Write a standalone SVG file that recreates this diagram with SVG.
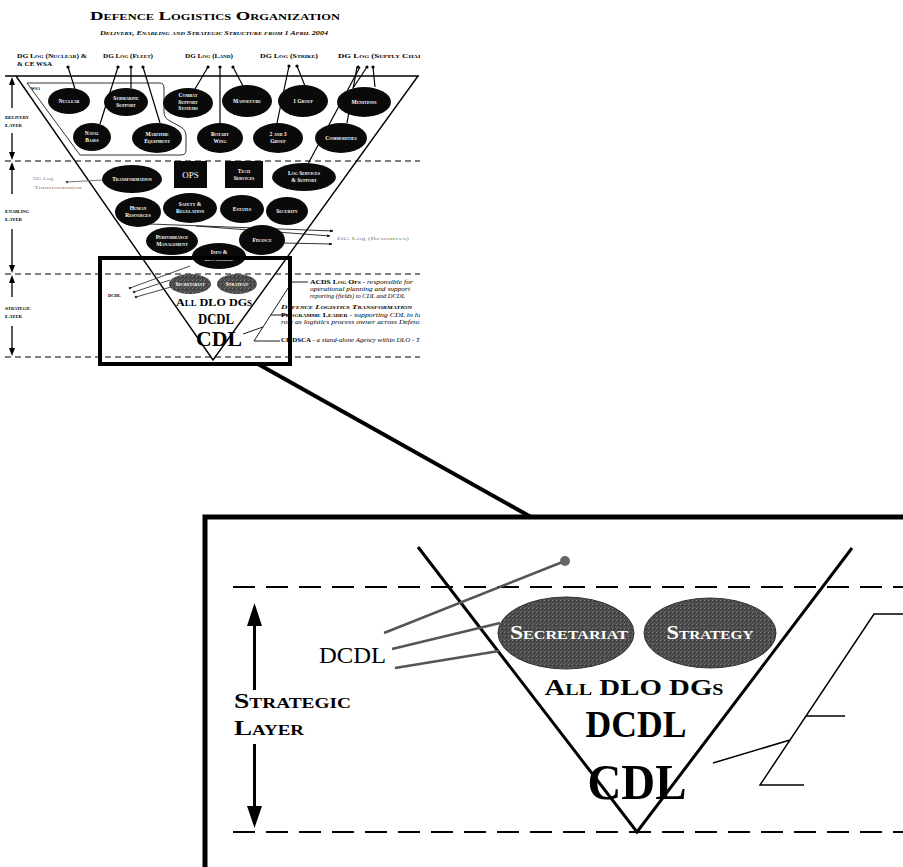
<svg xmlns="http://www.w3.org/2000/svg" width="903" height="867" viewBox="0 0 903 867">
<style>
.ser{font-family:"Liberation Serif","Times New Roman",serif}
.sc{font-family:"Liberation Serif","Times New Roman",serif;font-weight:bold;font-variant:small-caps}
.et{font-family:"Liberation Serif","Times New Roman",serif;font-weight:bold;font-variant:small-caps;fill:#fff;font-size:5.5px;text-anchor:middle}
.blk{fill:#0a0a0a}
.gry{fill:url(#speck)}
.ln{stroke:#000;stroke-width:1.2;fill:none}
.gl{stroke:#777;stroke-width:1;fill:none}
.dsh{stroke:#000;stroke-width:1;stroke-dasharray:6 4;fill:none}
.bdsh{stroke:#000;stroke-width:2;stroke-dasharray:22 11;fill:none}
.grt{font-family:"Liberation Serif","Times New Roman",serif;font-size:5px;fill:#888}
.ann{font-family:"Liberation Serif","Times New Roman",serif;font-size:5.6px;font-style:italic;fill:#000}
</style>
<defs>
<marker id="ah" viewBox="0 0 10 10" refX="9" refY="5" markerWidth="4" markerHeight="4" orient="auto"><path d="M0,1 L10,5 L0,9 z" fill="#000"/></marker>
<clipPath id="cp"><rect x="0" y="0" width="420" height="380"/></clipPath>
<pattern id="speck" width="4" height="4" patternUnits="userSpaceOnUse">
<rect width="4" height="4" fill="#4a4a4a"/>
<rect x="0" y="0" width="1" height="1" fill="#7a7a7a"/>
<rect x="2" y="1" width="1" height="1" fill="#303030"/>
<rect x="1" y="3" width="1" height="1" fill="#6a6a6a"/>
<rect x="3" y="2" width="1" height="1" fill="#5c5c5c"/>
</pattern>
</defs>
<rect width="903" height="867" fill="#fff"/>

<!-- ============ small overview diagram ============ -->
<g id="title">
<text class="sc" x="215" y="20" font-size="12" text-anchor="middle" textLength="250" lengthAdjust="spacingAndGlyphs">Defence Logistics Organization</text>
<text class="sc" x="214" y="35" font-size="6.5" font-style="italic" text-anchor="middle" textLength="228" lengthAdjust="spacingAndGlyphs">Delivery, Enabling and Strategic Structure from 1 April 2004</text>
</g>

<g id="dg-labels" clip-path="url(#cp)">
<text class="sc" x="17" y="58" font-size="5.5" textLength="70" lengthAdjust="spacingAndGlyphs">DG Log (Nuclear) &amp;</text>
<text class="sc" x="17" y="66" font-size="5.5" textLength="35" lengthAdjust="spacingAndGlyphs">&amp; CE WSA</text>
<text class="sc" x="103" y="58" font-size="5.5" textLength="50" lengthAdjust="spacingAndGlyphs">DG Log (Fleet)</text>
<text class="sc" x="185" y="58" font-size="5.5" textLength="48" lengthAdjust="spacingAndGlyphs">DG Log (Land)</text>
<text class="sc" x="260" y="58" font-size="5.5" textLength="58" lengthAdjust="spacingAndGlyphs">DG Log (Strike)</text>
<text class="sc" x="338" y="58" font-size="5.5" textLength="90" lengthAdjust="spacingAndGlyphs">DG Log (Supply Chain)</text>
</g>

<g id="layers">
<line x1="5" y1="76" x2="419" y2="76" stroke="#000" stroke-width="1.6"/>
<path class="dsh" d="M5,161 H420 M5,274 H420 M5,357 H420"/>
<path d="M16,76 L213,360 L418,76" stroke="#000" stroke-width="1.4" fill="none"/>
<g stroke="#000" stroke-width="1.3">
<line x1="12" y1="84" x2="12" y2="108"/><line x1="12" y1="133" x2="12" y2="153"/>
<line x1="12" y1="169" x2="12" y2="194"/><line x1="12" y1="229" x2="12" y2="265"/>
<line x1="12" y1="282" x2="12" y2="297"/><line x1="12" y1="326" x2="12" y2="349"/>
</g>
<path d="M12,77 L9,85 L15,85 Z M12,160 L9,152 L15,152 Z M12,162 L9,170 L15,170 Z M12,273 L9,265 L15,265 Z M12,275 L9,283 L15,283 Z M12,356 L9,348 L15,348 Z" fill="#000"/>
<g class="sc" font-size="5">
<text x="5" y="119" textLength="24" lengthAdjust="spacingAndGlyphs">Delivery</text>
<text x="5" y="127" textLength="17" lengthAdjust="spacingAndGlyphs">Layer</text>
<text x="5" y="213" textLength="24" lengthAdjust="spacingAndGlyphs">Enabling</text>
<text x="5" y="221" textLength="17" lengthAdjust="spacingAndGlyphs">Layer</text>
<text x="5" y="310" textLength="26" lengthAdjust="spacingAndGlyphs">Strategic</text>
<text x="5" y="318" textLength="17" lengthAdjust="spacingAndGlyphs">Layer</text>
</g>
</g>

<g id="connectors">
<g class="ln">
<line x1="68" y1="67" x2="75" y2="89"/>
<line x1="118" y1="67" x2="100" y2="124"/>
<line x1="131" y1="67" x2="131" y2="88"/>
<line x1="143" y1="67" x2="160" y2="123"/>
<line x1="208" y1="67" x2="195" y2="89"/>
<line x1="220" y1="67" x2="220" y2="123"/>
<line x1="233" y1="67" x2="243" y2="86"/>
<line x1="289" y1="66" x2="277" y2="123"/>
<line x1="297" y1="66" x2="305" y2="86"/>
<line x1="357" y1="67" x2="347" y2="123"/>
<line x1="360" y1="67" x2="302" y2="175"/>
<line x1="367" y1="67" x2="353" y2="88"/>
<line x1="373" y1="67" x2="375" y2="87"/>
</g>
<g fill="#000">
<circle cx="68" cy="67" r="1.6"/><circle cx="118" cy="67" r="1.6"/><circle cx="131" cy="67" r="1.6"/><circle cx="143" cy="67" r="1.6"/>
<circle cx="208" cy="67" r="1.6"/><circle cx="220" cy="67" r="1.6"/><circle cx="233" cy="67" r="1.6"/>
<circle cx="289" cy="66" r="1.6"/><circle cx="297" cy="66" r="1.6"/>
<circle cx="358" cy="67" r="1.6"/><circle cx="367" cy="67" r="1.6"/><circle cx="373" cy="67" r="1.6"/>
</g>
<line class="gl" x1="67" y1="182" x2="103" y2="180"/>
<circle cx="67" cy="182" r="1.3" fill="#555"/>
<g stroke="#000" stroke-width="0.8" marker-end="url(#ah)">
<line x1="150" y1="224" x2="333" y2="231"/>
<line x1="196" y1="226" x2="330" y2="236"/>
<line x1="283" y1="243" x2="332" y2="244"/>
</g>
<g stroke="#333" stroke-width="0.9">
<line x1="130" y1="288" x2="190" y2="266"/>
<line x1="134" y1="292" x2="170" y2="280"/>
<line x1="136" y1="297" x2="171" y2="287"/>
</g>
<g fill="#333"><circle cx="130" cy="288" r="1.3"/><circle cx="134" cy="292" r="1.3"/><circle cx="136" cy="297" r="1.3"/></g>
</g>

<g id="wsa">
<path d="M27,83 L160,83 Q164,83 164,88 L164,112 Q164,118 170,121 L181,127 Q186,130 186,136 L186,150 Q186,155 181,155 L80,155 Z" fill="none" stroke="#000" stroke-width="0.8"/>
<text class="sc" x="31" y="90" font-size="4">WSA</text>
</g>

<g id="n-nuclear"><ellipse class="blk" cx="69" cy="101" rx="21" ry="13"/><text class="et" x="69" y="103">Nuclear</text></g>
<g id="n-submarine"><ellipse class="blk" cx="126" cy="102" rx="22" ry="14"/><text class="et" x="126" y="100">Submarine<tspan x="126" dy="6.5">Support</tspan></text></g>
<g id="n-combat"><ellipse class="blk" cx="188" cy="103" rx="25" ry="15"/><text class="et" x="188" y="97">Combat<tspan x="188" dy="6.5">Support</tspan><tspan x="188" dy="6.5">Systems</tspan></text></g>
<g id="n-manoeuvre"><ellipse class="blk" cx="247" cy="101" rx="25" ry="16"/><text class="et" x="247" y="103">Manoeuvre</text></g>
<g id="n-1group"><ellipse class="blk" cx="303" cy="101" rx="25" ry="16"/><text class="et" x="303" y="103">1 Group</text></g>
<g id="n-munitions"><ellipse class="blk" cx="364" cy="102" rx="27" ry="15"/><text class="et" x="364" y="104">Munitions</text></g>
<g id="n-navalbases"><ellipse class="blk" cx="92" cy="137" rx="19" ry="14"/><text class="et" x="92" y="135">Naval<tspan x="92" dy="6.5">Bases</tspan></text></g>
<g id="n-maritime"><ellipse class="blk" cx="157" cy="138" rx="25" ry="15"/><text class="et" x="157" y="136">Maritime<tspan x="157" dy="6.5">Equipment</tspan></text></g>
<g id="n-rotary"><ellipse class="blk" cx="220" cy="138" rx="23" ry="15"/><text class="et" x="220" y="136">Rotary<tspan x="220" dy="6.5">Wing</tspan></text></g>
<g id="n-23group"><ellipse class="blk" cx="278" cy="138" rx="25" ry="15"/><text class="et" x="278" y="136">2 and 3<tspan x="278" dy="6.5">Group</tspan></text></g>
<g id="n-commodities"><ellipse class="blk" cx="341" cy="138" rx="26" ry="15"/><text class="et" x="341" y="140">Commodities</text></g>

<g id="n-transformation"><ellipse class="blk" cx="132" cy="179" rx="30" ry="14"/><text class="et" x="132" y="181">Transformation</text></g>
<g id="n-ops"><rect class="blk" x="174" y="161" width="33" height="27"/><text x="190.5" y="178" font-family="Liberation Serif,serif" font-size="9" fill="#fff" text-anchor="middle">OPS</text></g>
<g id="n-tech"><rect class="blk" x="225" y="161" width="38" height="27"/><text class="et" x="244" y="173">Tech<tspan x="244" dy="6.5">Services</tspan></text></g>
<g id="n-logserv"><ellipse class="blk" cx="304" cy="177" rx="32" ry="14"/><text class="et" x="304" y="175">Log Services<tspan x="304" dy="6.5">&amp; Support</tspan></text></g>
<g id="n-hr"><ellipse class="blk" cx="138" cy="212" rx="23" ry="15"/><text class="et" x="138" y="210">Human<tspan x="138" dy="6.5">Resources</tspan></text></g>
<g id="n-safety"><ellipse class="blk" cx="190" cy="208" rx="27" ry="15"/><text class="et" x="190" y="206">Safety &amp;<tspan x="190" dy="6.5">Regulation</tspan></text></g>
<g id="n-estates"><ellipse class="blk" cx="242" cy="209" rx="22" ry="14"/><text class="et" x="242" y="211">Estates</text></g>
<g id="n-security"><ellipse class="blk" cx="287" cy="211" rx="21" ry="14"/><text class="et" x="287" y="213">Security</text></g>
<g id="n-perf"><ellipse class="blk" cx="172" cy="241" rx="26" ry="14"/><text class="et" x="172" y="239">Performance<tspan x="172" dy="6.5">Management</tspan></text></g>
<g id="n-finance"><ellipse class="blk" cx="262" cy="240" rx="23" ry="15"/><text class="et" x="262" y="242">Finance</text></g>
<g id="n-info"><ellipse class="blk" cx="219" cy="256" rx="27" ry="13"/><text class="et" x="219" y="254">Info &amp;<tspan x="219" dy="6.5">Knowledge</tspan></text></g>

<g id="grey-labels">
<text class="grt" x="33" y="180" textLength="20" lengthAdjust="spacingAndGlyphs">DG Log</text>
<text class="grt" x="34" y="189" textLength="48" lengthAdjust="spacingAndGlyphs">Transformation</text>
<text class="grt" x="337" y="240" textLength="72" lengthAdjust="spacingAndGlyphs">DG Log (Resources)</text>
<text class="sc" x="108" y="297" font-size="4.5">DCDL</text>
</g>

<g id="n-sec-small"><ellipse class="gry" cx="190" cy="284" rx="21" ry="10"/><text class="et" x="190" y="286" font-size="5">Secretariat</text></g>
<g id="n-str-small"><ellipse class="gry" cx="237" cy="284" rx="20" ry="10"/><text class="et" x="237" y="286" font-size="5">Strategy</text></g>
<g id="small-strategic-text">
<text class="sc" x="214" y="306" font-size="11" text-anchor="middle" textLength="76" lengthAdjust="spacingAndGlyphs">All DLO DGs</text>
<text class="sc" x="216" y="324" font-size="15" text-anchor="middle" textLength="36" lengthAdjust="spacingAndGlyphs">DCDL</text>
<text class="sc" x="219" y="346" font-size="21" text-anchor="middle" textLength="46" lengthAdjust="spacingAndGlyphs">CDL</text>
</g>

<g id="annotations" clip-path="url(#cp)">
<path d="M308,282 L292,282 L254,341 L280,341 M271,315 L288,315 M243,334 L263,327" stroke="#000" stroke-width="0.9" fill="none"/>
<text class="ann" x="310" y="284" textLength="103" lengthAdjust="spacingAndGlyphs"><tspan font-weight="bold" font-style="normal" font-variant="small-caps">ACDS Log Ops</tspan> - responsible for</text>
<text class="ann" x="310" y="291" textLength="100" lengthAdjust="spacingAndGlyphs">operational planning and support</text>
<text class="ann" x="310" y="298" textLength="95" lengthAdjust="spacingAndGlyphs">reporting (fields) to CDL and DCDL</text>
<text class="ann" x="281" y="309" font-weight="bold" font-style="normal" font-variant="small-caps" textLength="131" lengthAdjust="spacingAndGlyphs">Defence Logistics Transformation</text>
<text class="ann" x="281" y="317" textLength="143" lengthAdjust="spacingAndGlyphs"><tspan font-weight="bold" font-style="normal" font-variant="small-caps">Programme Leader</tspan> - supporting CDL in his</text>
<text class="ann" x="281" y="324" textLength="143" lengthAdjust="spacingAndGlyphs">role as logistics process owner across Defence</text>
<text class="ann" x="281" y="342" textLength="146" lengthAdjust="spacingAndGlyphs"><tspan font-weight="bold" font-style="normal" font-variant="small-caps">CE DSCA</tspan> - a stand-alone Agency within DLO - TLS</text>
</g>

<g id="zoom-frame">
<rect x="100" y="258" width="190" height="106" fill="none" stroke="#000" stroke-width="4"/>
<line x1="258" y1="364" x2="531" y2="517" stroke="#000" stroke-width="4"/>
<rect x="205" y="517" width="720" height="380" fill="none" stroke="#000" stroke-width="5"/>
</g>

<!-- ============ enlarged strategic layer ============ -->
<g id="big-layers">
<path class="bdsh" d="M233,587 H903 M233,832 H903"/>
<path d="M418,547 L637,832 L852,548" stroke="#000" stroke-width="3" fill="none"/>
<line x1="254.5" y1="622" x2="254.5" y2="690" stroke="#000" stroke-width="3"/>
<line x1="254.5" y1="744" x2="254.5" y2="810" stroke="#000" stroke-width="3"/>
<path d="M254.5,603 L247,626 L262,626 Z M254.5,828 L247,806 L262,806 Z" fill="#000"/>
<text class="sc" x="234" y="708" font-size="20" textLength="117" lengthAdjust="spacingAndGlyphs">Strategic</text>
<text class="sc" x="234" y="735" font-size="20" textLength="70" lengthAdjust="spacingAndGlyphs">Layer</text>
</g>

<g id="big-connectors">
<g stroke="#555" stroke-width="2.5">
<line x1="384" y1="633" x2="565" y2="561"/>
<line x1="392" y1="649" x2="500" y2="623"/>
<line x1="395" y1="668" x2="499" y2="651"/>
</g>
<circle cx="565" cy="561" r="5" fill="#666"/>
<path d="M903,614 L874,614 L760,785 L804,785 M806,716 L845,716 M713,763 L790,740" stroke="#000" stroke-width="1.5" fill="none"/>
</g>

<g id="big-dcdl-label"><text class="ser" x="319" y="663" font-size="23" textLength="67" lengthAdjust="spacingAndGlyphs">DCDL</text></g>
<g id="big-secretariat"><ellipse cx="566" cy="633" rx="68" ry="36" fill="url(#speck)" stroke="#333" stroke-width="1"/><text class="sc" x="569" y="639" font-size="19" fill="#fff" text-anchor="middle" textLength="118" lengthAdjust="spacingAndGlyphs">Secretariat</text></g>
<g id="big-strategy"><ellipse cx="710" cy="633" rx="66" ry="35" fill="url(#speck)" stroke="#333" stroke-width="1"/><text class="sc" x="710" y="639" font-size="19" fill="#fff" text-anchor="middle" textLength="87" lengthAdjust="spacingAndGlyphs">Strategy</text></g>
<g id="big-text">
<text class="sc" x="634" y="695" font-size="23" text-anchor="middle" textLength="179" lengthAdjust="spacingAndGlyphs">All DLO DGs</text>
<text class="sc" x="636" y="737" font-size="38" text-anchor="middle" textLength="101" lengthAdjust="spacingAndGlyphs">DCDL</text>
<text class="sc" x="637" y="799" font-size="50" text-anchor="middle" textLength="99" lengthAdjust="spacingAndGlyphs">CDL</text>
</g>
</svg>
